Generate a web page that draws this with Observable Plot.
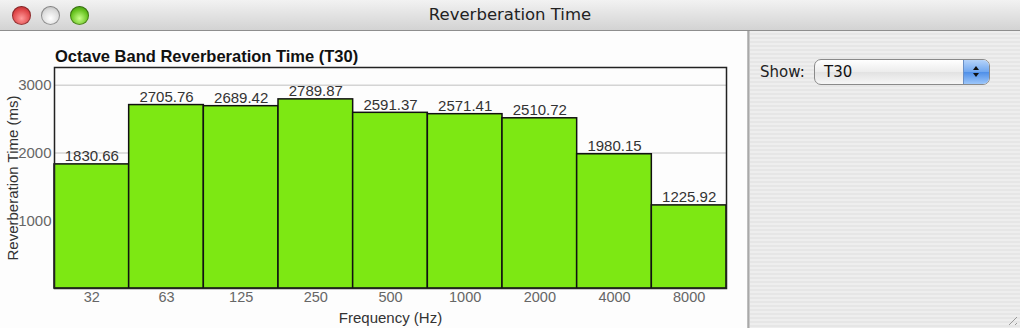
<!DOCTYPE html>
<html>
<head>
<meta charset="utf-8">
<script src="https://cdn.jsdelivr.net/npm/d3@7"></script>
<script src="https://cdn.jsdelivr.net/npm/@observablehq/plot@0.6"></script>
<style>
  html, body { margin: 0; padding: 0; }
  body { width: 1020px; height: 328px; overflow: hidden; position: relative; background: #fff; font-family: "Liberation Sans", Arial, sans-serif; }
  .titlebar { position: absolute; left: 0; top: 0; width: 1020px; height: 30px; background: linear-gradient(#f2f2f2, #d3d3d3); border-bottom: 1px solid #8e8e8e; }
  .titlebar .t { position: absolute; left: 0; right: 0; top: 5px; text-align: center; font-family: "DejaVu Sans", sans-serif; font-size: 16.5px; color: #222; }
  .light { position: absolute; top: 6px; width: 19px; height: 19px; border-radius: 50%; box-shadow: inset 0 0 0 1px rgba(0,0,0,0.35); }
  .red { left: 12px; background: radial-gradient(circle at 50% 65%, #ff9a9a 0%, #e0484a 55%, #9c1b1d 100%); }
  .gray { left: 41px; background: radial-gradient(circle at 50% 65%, #ffffff 0%, #dcdcdc 55%, #a8a8a8 100%); }
  .green { left: 70px; background: radial-gradient(circle at 50% 65%, #c8ff8a 0%, #66c21e 55%, #2f7a0c 100%); }
  .left { position: absolute; left: 0; top: 31px; width: 747px; height: 297px; background: #fdfdfd; }
  .divider { position: absolute; left: 747px; top: 31px; width: 3px; height: 297px; background: linear-gradient(90deg, #c9c9c9, #a9a9a9, #d9d9d9); }
  .right { position: absolute; left: 750px; top: 31px; width: 270px; height: 297px; background: repeating-linear-gradient(#eeeeee 0px, #eeeeee 2px, #e6e6e6 2px, #e6e6e6 4px); }
  #chart { position: absolute; left: 0; top: 0; }
  .ctitle { position: absolute; left: 55px; top: 16px; font-size: 16.5px; font-weight: bold; color: #111; white-space: nowrap; }
  .show { position: absolute; left: 10px; top: 32px; font-family: "DejaVu Sans", sans-serif; font-size: 15px; color: #222; }
  .popup { position: absolute; left: 64px; top: 28px; width: 176px; height: 26px; border-radius: 7px; border: 1px solid #8a8a8a; background: linear-gradient(#ffffff, #ececec 50%, #e2e2e2 51%, #f6f6f6); box-sizing: border-box; overflow: hidden; }
  .popup .v { position: absolute; left: 9px; top: 3px; font-family: "DejaVu Sans", sans-serif; font-size: 15px; color: #111; }
  .popup .step { position: absolute; right: 0; top: 0; width: 25px; height: 100%; background: linear-gradient(#b5d3fa, #6fa6ef 50%, #4f8fe8 51%, #9cc6fa); border-left: 1px solid #6a8fc5; }
  .step .a { position: absolute; left: 9px; width: 0; height: 0; border-left: 3px solid transparent; border-right: 3px solid transparent; }
  .step .up { top: 6px; border-bottom: 4px solid #111; }
  .step .dn { top: 13px; border-top: 4px solid #111; }
  .grip { position: absolute; right: 3px; bottom: 3px; width: 12px; height: 12px; background: repeating-linear-gradient(135deg, transparent 0px, transparent 3px, #999 3px, #999 4px); clip-path: polygon(100% 0, 100% 100%, 0 100%); }
</style>
</head>
<body>
<div class="titlebar">
  <div class="light red"></div><div class="light gray"></div><div class="light green"></div>
  <div class="t">Reverberation Time</div>
</div>
<div class="left">
  <div id="chart"></div>
  <div class="ctitle">Octave Band Reverberation Time (T30)</div>
</div>
<div class="divider"></div>
<div class="right">
  <div class="show">Show:</div>
  <div class="popup"><span class="v">T30</span><div class="step"><div class="a up"></div><div class="a dn"></div></div></div>
  <div class="grip"></div>
</div>
<script>
const bands = ["32", "63", "125", "250", "500", "1000", "2000", "4000", "8000"];
const t30 = [1830.66, 2705.76, 2689.42, 2789.87, 2591.37, 2571.41, 2510.72, 1980.15, 1225.92];
const yTicks = [1000, 2000, 3000];
const xLabel = "Frequency (Hz)";
const yLabel = "Reverberation Time (ms)";

const data = bands.map((b, i) => ({band: b, value: t30[i]}));

const chart = Plot.plot({
  width: 747,
  height: 297,
  marginLeft: 54,
  marginRight: 21,
  marginTop: 36,
  marginBottom: 40,
  style: {fontFamily: "Liberation Sans, Arial, sans-serif", fontSize: "15px", background: "transparent", overflow: "visible"},
  x: {domain: bands, padding: 0, round: false},
  y: {domain: [0, 3260]},
  marks: [
    Plot.gridY(yTicks, {stroke: "#d4d4d4", strokeOpacity: 1, strokeWidth: 1.5}),
    Plot.barY(data, {x: "band", y: "value", fill: "#7de813", stroke: "#111", strokeWidth: 1.5, inset: 0}),
    Plot.text(data, {x: "band", y: "value", text: d => d.value.toFixed(2), dy: -8, fill: "#333", fontSize: 15}),
    Plot.axisX({tickSize: 0, tickPadding: 3, fill: "#666", fontSize: 14.5, label: null}),
    Plot.axisY(yTicks, {tickSize: 0, tickPadding: 3, fill: "#666", fontSize: 15, tickFormat: d => String(d), label: null}),
    Plot.text([xLabel], {frameAnchor: "bottom", dy: 34, fill: "#333", fontSize: 15}),
    Plot.text([yLabel], {frameAnchor: "left", textAnchor: "middle", dx: -41, rotate: -90, fill: "#333", fontSize: 15}),
    Plot.frame({stroke: "#222", strokeWidth: 1.5})
  ]
});
document.getElementById("chart").appendChild(chart);
</script>
</body>
</html>
